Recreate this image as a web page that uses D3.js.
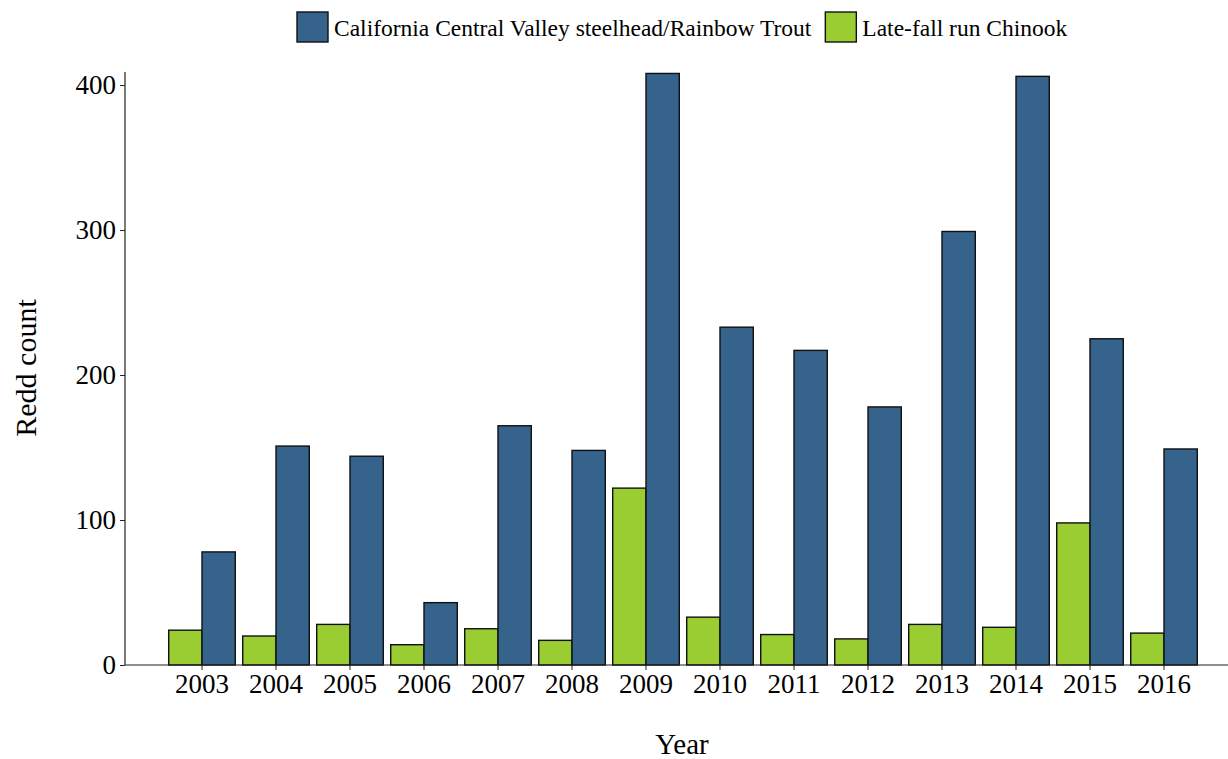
<!DOCTYPE html>
<html><head><meta charset="utf-8">
<script src="https://cdn.jsdelivr.net/npm/d3@7"></script>
<style>body{margin:0;background:#fff}svg{display:block}text{font-family:"Liberation Serif","Times New Roman",serif;fill:#000}</style>
</head><body><svg id="c" width="1228" height="759"></svg>
<script>
const years = ["2003","2004","2005","2006","2007","2008","2009","2010","2011","2012","2013","2014","2015","2016"];
const series = ["Late-fall run Chinook","California Central Valley steelhead/Rainbow Trout"];
const chinook = [24,20,28,14,25,17,122,33,21,18,28,26,98,22];
const steelhead = [78,151,144,43,165,148,408,233,217,178,299,406,225,149];
const yTicks = [0,100,200,300,400];
const colors = {"California Central Valley steelhead/Rainbow Trout":"#35638c","Late-fall run Chinook":"#9acd32"};
const legendOrder = ["California Central Valley steelhead/Rainbow Trout","Late-fall run Chinook"];

const svg = d3.select("#c");
const axisLeft = 125, axisBottom = 665, axisTop = 72, axisRight = 1228;
const x = d3.scaleBand().domain(years).range([165,1201]).paddingInner(0.1).paddingOuter(0.05);
const xs = d3.scaleBand().domain(series).range([0,x.bandwidth()]);
const y = d3.scaleLinear().domain([0,409]).range([axisBottom,axisTop]);

const data = years.map((yr,i)=>({year:yr, vals:[{s:series[0],v:chinook[i]},{s:series[1],v:steelhead[i]}]}));

const g = svg.append("g");
g.selectAll("g.yr").data(data).join("g").attr("class","yr")
 .attr("transform",d=>`translate(${x(d.year)},0)`)
 .selectAll("rect").data(d=>d.vals).join("rect")
 .attr("x",d=>xs(d.s)).attr("width",xs.bandwidth())
 .attr("y",d=>y(d.v)).attr("height",d=>axisBottom-y(d.v))
 .attr("fill",d=>colors[d.s]).attr("stroke","#111").attr("stroke-width",1.4);

svg.append("line").attr("x1",axisLeft).attr("x2",axisLeft).attr("y1",axisTop).attr("y2",axisBottom).attr("stroke","#222").attr("stroke-width",1.2);
svg.append("line").attr("x1",axisLeft).attr("x2",axisRight).attr("y1",axisBottom).attr("y2",axisBottom).attr("stroke","#222").attr("stroke-width",1.2);

const ya = d3.axisLeft(y).tickValues(yTicks).tickSize(5).tickPadding(4);
const yg = svg.append("g").attr("transform",`translate(${axisLeft},0)`).call(ya);
yg.select(".domain").remove();
yg.selectAll("text").style("font-size","27px").style("font-family","Liberation Serif").attr("fill","#000");
yg.selectAll("line").attr("stroke","#222");

const xa = d3.axisBottom(x).tickSize(5).tickPadding(4);
const xg = svg.append("g").attr("transform",`translate(0,${axisBottom})`).call(xa);
xg.select(".domain").remove();
xg.selectAll("text").style("font-size","27px").style("font-family","Liberation Serif").attr("fill","#000");
xg.selectAll("line").attr("stroke","#222");

svg.append("text").attr("x",682).attr("y",754).attr("text-anchor","middle").style("font-size","29px").text("Year");
svg.append("text").attr("transform","translate(36,368) rotate(-90)").attr("text-anchor","middle").style("font-size","30px").text("Redd count");

const lg = svg.append("g");
let lx = 297;
legendOrder.forEach(s=>{
  lg.append("rect").attr("x",lx).attr("y",12).attr("width",31).attr("height",30).attr("fill",colors[s]).attr("stroke","#111").attr("stroke-width",1.4);
  const t = lg.append("text").attr("x",lx+37).attr("y",36).style("font-size","23.5px").text(s);
  lx += 37 + t.node().getComputedTextLength() + 14;
});
</script></body></html>
